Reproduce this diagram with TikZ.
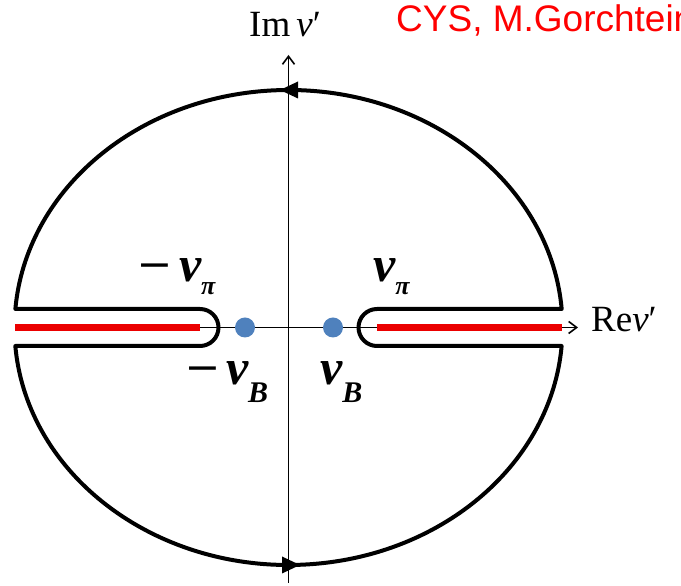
\documentclass[tikz,border=0pt]{standalone}
\usepackage{fontspec}
\setmainfont{Liberation Serif}
\newfontfamily\arialfont{Liberation Sans}
\usetikzlibrary{arrows.meta}
\definecolor{dotblue}{RGB}{79,129,189}
\definecolor{cutred}{RGB}{235,0,0}
\newcommand{\bignu}{{\fontsize{50}{50}\selectfont\bfseries\itshape ν}}
\newcommand{\bigminus}{\scalebox{1.2}[1]{\fontsize{48}{48}\selectfont\bfseries −}}
\newcommand{\subpi}{\raisebox{-13pt}{\fontsize{26}{26}\selectfont\bfseries\itshape π}}
\newcommand{\subB}{\raisebox{-18pt}{\fontsize{30}{30}\selectfont\bfseries\itshape B}}
\begin{document}
\begin{tikzpicture}[x=1pt,y=1pt,
  contour/.style={line width=4pt, black, line join=round},
  axisline/.style={line width=1.8pt, black, -{Straight Barb[length=8pt,width=12pt,line width=1.6pt]}},
  cut/.style={line width=7pt, cutred},
  pole/.style={circle, fill=dotblue, minimum size=20pt, inner sep=0pt},
  lbl/.style={inner sep=0pt, anchor=base west},
  axlbl/.style={inner sep=0pt, anchor=base west, font=\fontsize{37}{37}\selectfont},
  headfill/.style={fill=black}
]
\clip (0,0) rectangle (681,586);
% axes
\coordinate (vbot) at (288.5,3);
\coordinate (vtop) at (288.5,531);
\coordinate (hleft) at (15,258.5);
\coordinate (hright) at (578,258.5);
\draw[axisline] (vbot) -- (vtop);
\draw[axisline] (hleft) -- (hright);
% branch cuts
\coordinate (cl1) at (15,258.5);
\coordinate (cl2) at (200,258.5);
\coordinate (cr1) at (377,258.5);
\coordinate (cr2) at (562,258.5);
\draw[cut] (cl1) -- (cl2);
\draw[cut] (cr1) -- (cr2);
% contour
\draw[contour] (561.67,277) arc[start angle=4.47, end angle=175.53, x radius=274, y radius=237.5]
  -- (200,277) arc[start angle=90, end angle=-90, radius=18.5]
  -- (15.33,240) arc[start angle=184.47, end angle=355.53, x radius=274, y radius=237.5]
  -- (377,240) arc[start angle=270, end angle=90, radius=18.5] -- cycle;
% contour arrowheads
\fill[headfill] (280,496) -- (298,504.5) -- (298,487.5) -- cycle;
\fill[headfill] (300,21) -- (282,29.5) -- (282,12.5) -- cycle;
% poles
\node[pole] (mnuB) at (245,258.5) {};
\node[pole] (nuB) at (333,258.5) {};
% labels
\node[lbl] (lmpi) at (138,304) {\bigminus\hspace{8pt}\bignu\subpi};
\node[lbl] (lpi) at (373,304) {\bignu\subpi};
\node[lbl] (lmB) at (186,201) {\bigminus\hspace{7pt}\bignu\subB};
\node[lbl] (lB) at (320,201) {\bignu\subB};
\node[axlbl] (lim) at (249,549) {Im\,\textit{ν}′};
\node[axlbl] (lre) at (591,254) {Re\textit{ν}′};
\node[inner sep=0pt, anchor=base west, text=red, font=\arialfont\fontsize{37}{37}\selectfont] (credit) at (396,554) {CYS, M.Gorchtein};
\end{tikzpicture}
\end{document}
